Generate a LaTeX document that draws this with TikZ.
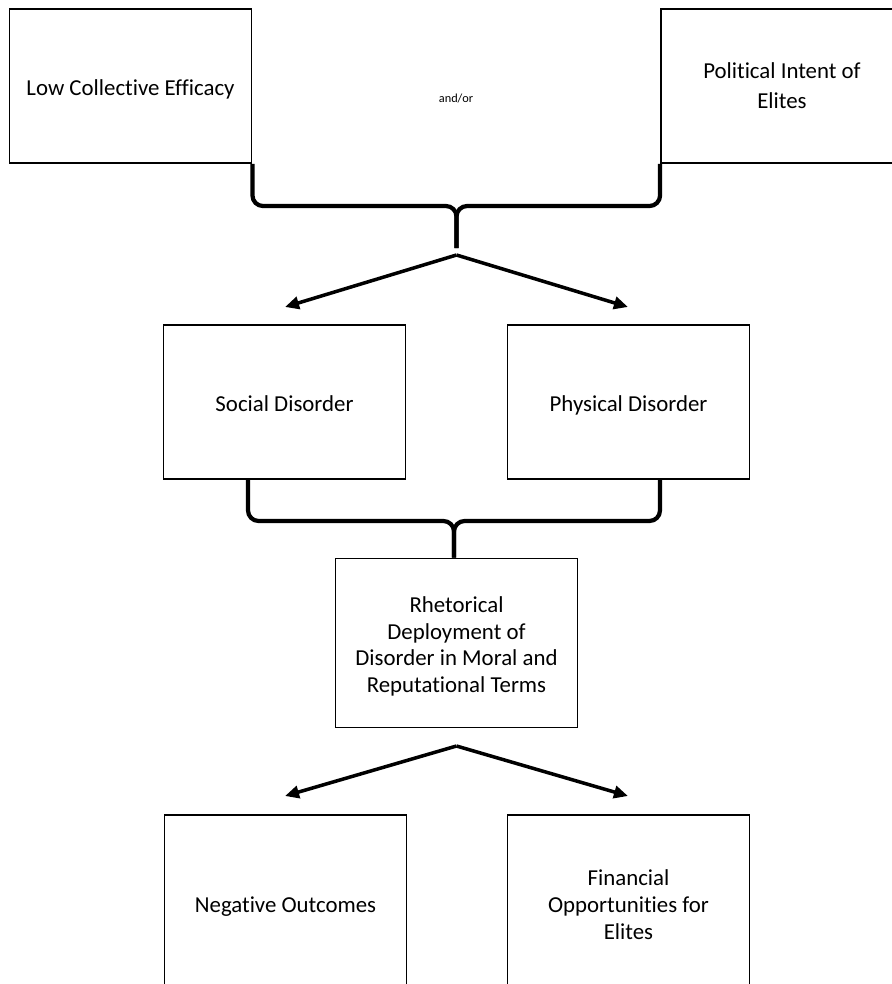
\documentclass[tikz,border=0pt]{standalone}
\usepackage{fontspec}
\setmainfont{Carlito}[Ligatures=NoCommon]
\usepackage{tikz}
\usetikzlibrary{arrows.meta}
\newcommand{\lift}[1]{\rule{0pt}{#1}}

\begin{document}
\begin{tikzpicture}[x=0.02cm, y=-0.02cm,
  box/.style={draw, line width=1.1pt, inner sep=0pt, align=center,
    minimum width=4.84cm, font=\fontsize{13}{17}\selectfont,
    execute at begin node=\rule{0pt}{15.5pt}, execute at end node=\strut},
  brace/.style={line width=2.4pt, rounded corners=6pt},
  link/.style={line width=2pt, -{Triangle[length=8pt,width=7pt]}}]
\useasboundingbox (0,0) rectangle (892,984);
\clip (0,0) rectangle (892,984);
\node[box, minimum height=3.08cm] (lce) at (130.5,86) {Low Collective Efficacy};
\node[box, minimum height=3.08cm] (pie) at (782,86) {\lift{13.5pt}Political Intent of\\Elites};
\node[font=\fontsize{7}{8}\selectfont] (andor) at (456,98) {and/or};
\node[box, minimum height=3.08cm] (social) at (284.5,402) {Social Disorder};
\node[box, minimum height=3.08cm] (physical) at (628.5,402) {Physical Disorder};
\node[box, minimum height=3.38cm, font=\fontsize{13}{15.2}\selectfont] (rhet) at (456.5,643) {\lift{15.5pt}Rhetorical\\Deployment of\\Disorder in Moral and\\Reputational Terms};
\node[box, minimum height=3.52cm] (neg) at (285.5,903) {Negative Outcomes};
\node[box, minimum height=3.52cm, font=\fontsize{13}{15.6}\selectfont] (fin) at (628.5,903) {\lift{15.5pt}Financial\\Opportunities for\\Elites};
\coordinate (topmid) at (456.5,206);
\coordinate (toptip) at (456.5,248);
\coordinate (split1) at (456.5,255);
\coordinate (endA) at (285,307);
\coordinate (endB) at (628,307);
\coordinate (sfoot) at (248,479);
\coordinate (pfoot) at (660,479);
\coordinate (midmid) at (454,521);
\coordinate (split2) at (456.5,746);
\coordinate (endC) at (285,796);
\coordinate (endD) at (628,796);
% braces
\draw[brace] (lce.south east) |- (topmid) -- (toptip);
\draw[brace] (pie.south west) |- (topmid) -- (toptip);
\draw[brace] (sfoot) |- (midmid) -- (rhet.north -| midmid);
\draw[brace] (pfoot) |- (midmid) -- (rhet.north -| midmid);
% arrows
\draw[link] (split1) -- (endA);
\draw[link] (split1) -- (endB);
\draw[link] (split2) -- (endC);
\draw[link] (split2) -- (endD);
\end{tikzpicture}
\end{document}
